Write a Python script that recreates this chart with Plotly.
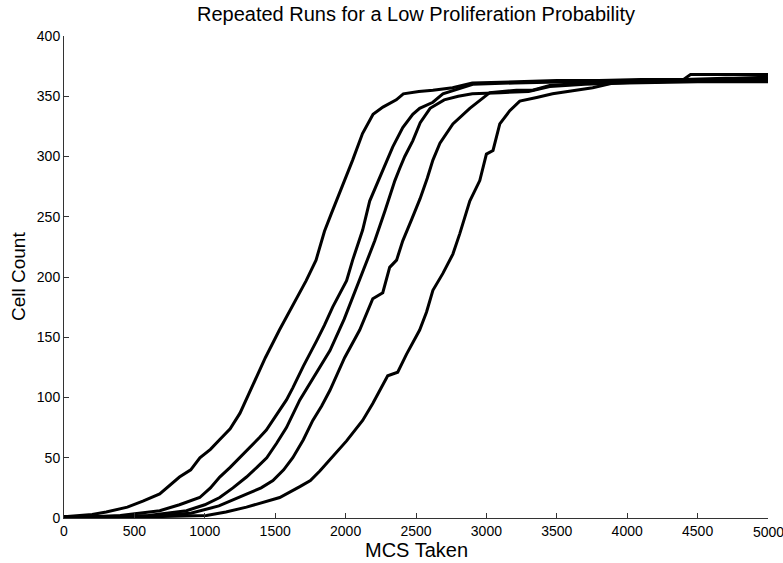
import plotly.graph_objects as go

# Cell count over Monte Carlo steps for five repeated runs
run1_mcs = [0, 100, 200, 300, 450, 560, 680, 820, 900, 965, 1040, 1105, 1180, 1250, 1345, 1430,
            1530, 1620, 1720, 1790, 1850, 1900, 1960, 2015, 2050, 2120, 2195, 2265, 2360, 2410,
            2520, 2620, 2760, 2900, 3200, 3500, 3800, 4100, 4400, 4700, 5000]
run1_cells = [1, 2, 3, 5, 9, 14, 20, 34, 40, 50, 57, 65, 74, 87, 112, 133,
              156, 176, 197, 214, 238, 253, 270, 287, 297, 319, 335, 341, 347, 352,
              354, 355, 357, 361, 362, 363, 363, 364, 364, 365, 365]

run2_mcs = [0, 200, 400, 550, 680, 820, 964, 1040, 1106, 1180, 1248, 1320, 1390, 1437, 1500,
            1580, 1625, 1700, 1794, 1850, 1908, 2007, 2050, 2078, 2121, 2171, 2264, 2335, 2406,
            2477, 2526, 2620, 2691, 2800, 2903, 3200, 3600, 4000, 4400, 4450, 4700, 5000]
run2_cells = [1, 1, 2, 4, 6, 11, 17, 25, 34, 42, 50, 58, 67, 73, 84,
              98, 108, 126, 147, 160, 175, 197, 214, 224, 239, 263, 288, 308, 324,
              335, 340, 345, 352, 356, 360, 361, 362, 363, 364, 368, 368, 368]

run3_mcs = [0, 300, 600, 870, 1000, 1106, 1200, 1296, 1370, 1440, 1510, 1580, 1675, 1780, 1889,
            1990, 2080, 2150, 2207, 2280, 2350, 2384, 2420, 2477, 2530, 2600, 2700, 2800, 2900,
            3100, 3300, 3450, 3700, 4000, 4500, 5000]
run3_cells = [1, 1, 2, 6, 11, 17, 25, 34, 42, 50, 62, 75, 98, 118, 139,
              165, 192, 214, 230, 255, 280, 290, 300, 313, 328, 340, 347, 350, 352,
              353, 354, 358, 360, 361, 362, 362]

run4_mcs = [0, 500, 900, 1100, 1300, 1400, 1484, 1560, 1625, 1700, 1767, 1830, 1889, 1993, 2100,
            2193, 2264, 2313, 2362, 2406, 2470, 2529, 2580, 2620, 2670, 2762, 2882, 3024, 3214,
            3328, 3450, 3700, 4200, 4600, 5000]
run4_cells = [1, 1, 4, 10, 20, 25, 31, 40, 50, 65, 81, 93, 106, 133, 156,
              182, 187, 208, 214, 230, 248, 265, 282, 297, 311, 327, 340, 353, 355,
              355, 359, 361, 362, 363, 364]

run5_mcs = [0, 600, 1012, 1150, 1296, 1420, 1532, 1675, 1750, 1817, 1900, 2007, 2121, 2193, 2299,
            2370, 2433, 2526, 2575, 2620, 2691, 2762, 2811, 2882, 2953, 3000, 3047, 3095, 3166,
            3237, 3357, 3470, 3755, 3900, 4200, 4600, 5000]
run5_cells = [1, 1, 2, 5, 9, 13, 17, 26, 31, 39, 50, 64, 81, 95, 118,
              121, 136, 156, 171, 189, 203, 219, 236, 263, 280, 302, 305, 327, 338,
              346, 349, 352, 357, 361, 362, 364, 366]

runs = [
    (run1_mcs, run1_cells),
    (run2_mcs, run2_cells),
    (run3_mcs, run3_cells),
    (run4_mcs, run4_cells),
    (run5_mcs, run5_cells),
]

x_ticks = list(range(0, 5001, 500))
y_ticks = list(range(0, 401, 50))

FONT = "Liberation Sans, Arial, Helvetica, sans-serif"
TICK_SIZE = 14

fig = go.Figure()
for mcs, cells in runs:
    fig.add_trace(go.Scatter(
        x=mcs, y=cells, mode="lines",
        line=dict(color="black", width=3),
        showlegend=False, hoverinfo="skip",
    ))

axis_common = dict(
    showgrid=False, zeroline=False,
    showline=True, linecolor="#333333", linewidth=1,
    ticks="inside", ticklen=5, tickcolor="#333333", tickwidth=1,
    tickfont=dict(family=FONT, size=TICK_SIZE, color="black"),
    mirror=False, automargin=False,
)

# the last x label runs past the figure edge, so it is drawn as an annotation
x_ticktext = [str(v) for v in x_ticks[:-1]] + [""]

fig.update_layout(
    width=783, height=563,
    margin=dict(l=64, r=15, t=36, b=45),
    paper_bgcolor="white", plot_bgcolor="white",
    font=dict(family=FONT, color="black"),
    title=dict(
        text="Repeated Runs for a Low Proliferation Probability",
        x=416 / 783, xanchor="center",
        y=1 - 13.5 / 563, yref="container", yanchor="middle",
        font=dict(family=FONT, size=20, color="black"),
    ),
    xaxis=dict(
        range=[0, 5000], tickvals=x_ticks, ticktext=x_ticktext,
        **axis_common,
    ),
    yaxis=dict(
        range=[0, 400], tickvals=y_ticks, ticktext=[str(v) for v in y_ticks],
        **axis_common,
    ),
    annotations=[
        dict(text=str(x_ticks[-1]), xref="x", yref="paper", x=x_ticks[-1],
             y=-(532 - 518) / 482, xanchor="center", yanchor="middle", showarrow=False,
             font=dict(family=FONT, size=TICK_SIZE, color="black")),
        dict(text="MCS Taken", xref="paper", yref="paper", x=0.5, y=-(550 - 518) / 482,
             xanchor="center", yanchor="middle", showarrow=False,
             font=dict(family=FONT, size=20, color="black")),
        dict(text="Cell Count", xref="paper", yref="paper", x=-(64 - 18) / 704, y=0.5,
             xanchor="center", yanchor="middle", textangle=-90, showarrow=False,
             font=dict(family=FONT, size=19, color="black")),
    ],
)

fig.write_html("out.html")
